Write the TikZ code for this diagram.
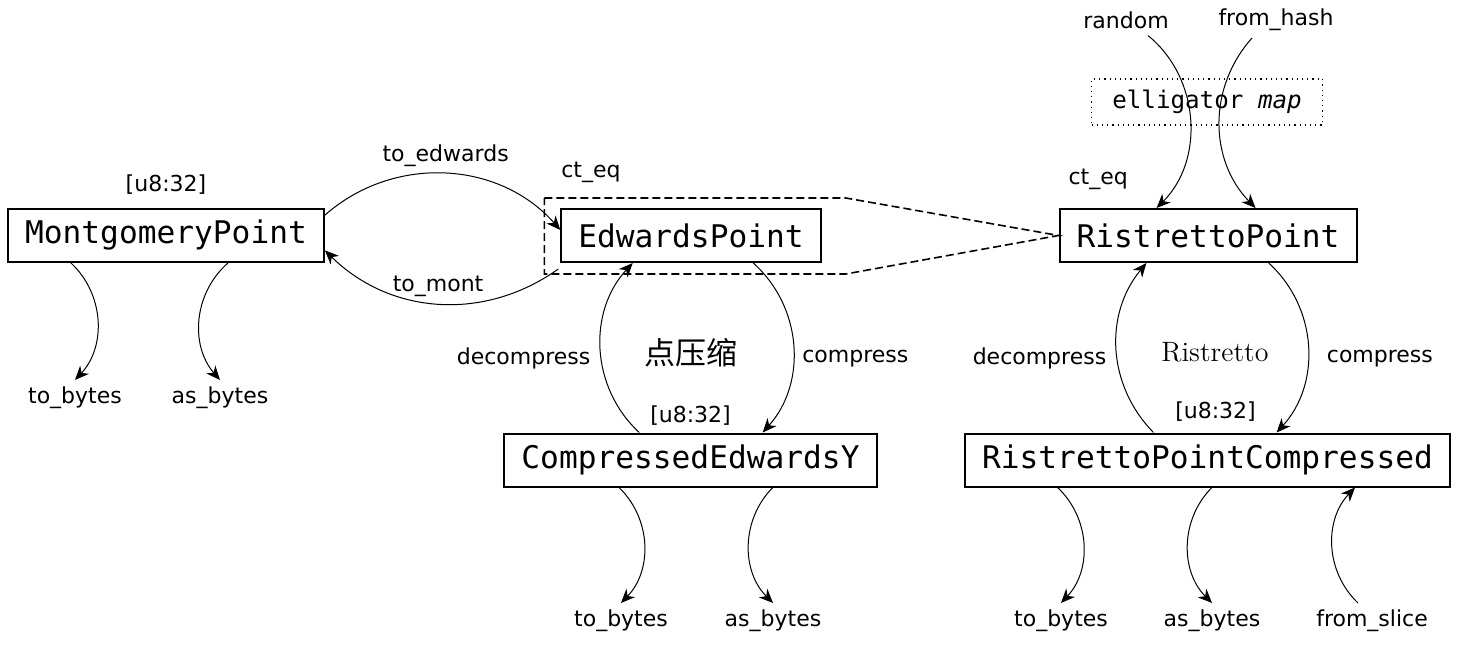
\documentclass[tikz,border=0pt]{standalone}
\usepackage{fontspec}
\setsansfont{DejaVu Sans}
\setmonofont{DejaVu Sans Mono}
\newfontfamily\cjk{Noto Sans CJK SC}
\usetikzlibrary{arrows.meta,calc,positioning}

\tikzset{
    tipo/.style={draw, line width=1pt, font=\ttfamily\fontsize{15.6}{18}\selectfont,
        minimum height=26.5pt, inner xsep=8.5pt, inner ysep=0pt},
    rotulo/.style={font=\sffamily\fontsize{11}{13}\selectfont},
    seta/.style={-{Stealth[length=7pt,width=6pt,inset=2.2pt]}, line width=0.5pt},
}

\begin{document}
\begin{tikzpicture}[x=0.5pt,y=-0.5pt]
        \useasboundingbox (0,0) rectangle (1466,646);

        % Tipos
        \node[tipo] (mont) at (166,235.5) {MontgomeryPoint};
        \node[tipo] (edw) at (691,235.5) {EdwardsPoint};
        \node[tipo] (rp) at (1208,235.5) {RistrettoPoint};
        \node[tipo] (cey) at (690.5,460) {CompressedEdwardsY};
        \node[tipo] (rpc) at (1207.5,460) {RistrettoPointCompressed};
        \node[draw, dotted, line width=0.6pt, font=\ttfamily\fontsize{12.1}{14}\selectfont,
            minimum width=115.5pt, minimum height=23pt] (ell) at (1207,102) {elligator \textit{map}};

        % Caixa tracejada (ct_eq)
        \draw[dash pattern=on 4pt off 2pt, line width=0.8pt]
            ($(edw.north west)+(-16,-10)$) -- ($(edw.north east)+(24,-10)$) -- (rp.west)
            -- ($(edw.south east)+(24,11)$) -- ($(edw.south west)+(-16,11)$) -- cycle;

        % Rótulos
        \node[rotulo, above=3.5pt of mont] (montsz) {[u8:32]};
        \node[rotulo, above=0pt of cey] (ceysz) {[u8:32]};
        \node[rotulo, above=2pt of rpc, xshift=4pt] (rpcsz) {[u8:32]};
        \node[rotulo, above right=9pt and -3pt of edw.north west] (edweq) {ct\_eq};
        \node[rotulo, above right=5.5pt and 1.5pt of rp.north west] (rpeq) {ct\_eq};
        \node[font=\cjk\fontsize{15.5}{18}\selectfont] (dyt) at (691,353) {点压缩};
        \node[font=\fontsize{14}{16}\selectfont] (rst) at (1215,352) {Ristretto};
        \node[rotulo] (rnd) at (1126,20) {random};
        \node[rotulo] (fhs) at (1276,20) {from\_hash};
        \node[rotulo] (mtb) at (75,398) {to\_bytes};
        \node[rotulo] (mab) at (220,398) {as\_bytes};
        \node[rotulo] (ctb) at (621,621) {to\_bytes};
        \node[rotulo] (cab) at (773,621) {as\_bytes};
        \node[rotulo] (rtb) at (1061,621) {to\_bytes};
        \node[rotulo] (rab) at (1212,621) {as\_bytes};
        \node[rotulo] (fsl) at (1372,621) {from\_slice};

        % Conversões
        \draw[seta] ($(mont.north east)!0.13!(mont.south east)$) to[bend left=45]
            node[rotulo, midway, above] {to\_edwards} ($(edw.north west)!0.4!(edw.south west)$);
        \draw[seta] ($(edw.south west)+(-2,6)$) to[bend left=40]
            node[rotulo, midway, above] {to\_mont} ($(mont.north east)!0.77!(mont.south east)$);
        \draw[seta] ($(cey.north west)!0.363!(cey.north east)$) to[bend left=45]
            node[rotulo, pos=0.45, left=2pt] {decompress} ($(edw.south west)!0.277!(edw.south east)$);
        \draw[seta] ($(edw.south west)!0.738!(edw.south east)$) to[bend left=45]
            node[rotulo, pos=0.57, right=1pt] {compress} ($(cey.north west)!0.693!(cey.north east)$);
        \draw[seta] ($(rpc.north west)!0.389!(rpc.north east)$) to[bend left=42]
            node[rotulo, pos=0.45, left=2pt] {decompress} ($(rp.south west)!0.294!(rp.south east)$);
        \draw[seta] ($(rp.south west)!0.703!(rp.south east)$) to[bend left=45]
            node[rotulo, pos=0.57, right=6pt] {compress} ($(rpc.north west)!0.642!(rpc.north east)$);

        % Entradas do RistrettoPoint
        \draw[seta] ([xshift=11pt]rnd.south) to[bend left=48] ($(rp.north west)!0.328!(rp.north east)$);
        \draw[seta] ([xshift=-12pt]fhs.south) to[bend right=43] ($(rp.north west)!0.659!(rp.north east)$);

        % Bytes
        \draw[seta] ($(mont.south west)!0.201!(mont.south east)$) to[bend left=45] (mtb.north);
        \draw[seta] ($(mont.south west)!0.695!(mont.south east)$) to[bend right=45] (mab.north);
        \draw[seta] ($(cey.south west)!0.309!(cey.south east)$) to[bend left=45] (ctb.north);
        \draw[seta] ($(cey.south west)!0.72!(cey.south east)$) to[bend right=45] (cab.north);
        \draw[seta] ($(rpc.south west)!0.192!(rpc.south east)$) to[bend left=45] (rtb.north);
        \draw[seta] ($(rpc.south west)!0.509!(rpc.south east)$) to[bend right=45] (rab.north);
        \draw[seta] ([xshift=-7pt]fsl.north) to[bend left=45] ($(rpc.south west)!0.803!(rpc.south east)$);
    \end{tikzpicture}
\end{document}
